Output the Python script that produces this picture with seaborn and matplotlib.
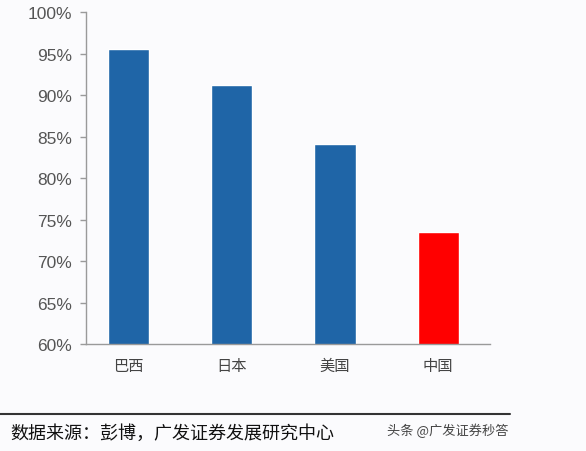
import matplotlib
matplotlib.use("Agg")
import matplotlib.pyplot as plt
import seaborn as sns
import pandas as pd
from matplotlib.ticker import FuncFormatter

countries = ["巴西", "日本", "美国", "中国"]
values = [95.5, 91.2, 84.1, 73.5]
bar_colors = ["#1f65a7", "#1f65a7", "#1f65a7", "#ff0000"]
yticks = [60, 65, 70, 75, 80, 85, 90, 95, 100]
source_text = "数据来源：彭博，广发证券发展研究中心"
watermark = "头条 @广发证券秒答"

sns.set_style("white")
plt.rcParams['font.family'] = ['Noto Sans CJK SC', 'DejaVu Sans']

df = pd.DataFrame({"country": countries, "value": values})

fig = plt.figure(figsize=(5.86, 4.52), dpi=100, facecolor="#fbfbfd")
ax = fig.add_axes([0.1468, 0.2367, 0.836 - 0.1468, 0.971 - 0.2367])
ax.set_facecolor("#fbfbfd")

sns.barplot(data=df, x="country", y="value", hue="country",
            palette=bar_colors, legend=False, width=0.4, ax=ax,
            saturation=1)

ax.set_ylim(60, 100)
ax.set_xlim(-0.41, 3.5)
ax.set_yticks(yticks)
ax.yaxis.set_major_formatter(FuncFormatter(lambda v, p: f"{v:.0f}%"))
ax.set_xlabel("")
ax.set_ylabel("")

for s in ["top", "right"]:
    ax.spines[s].set_visible(False)
for s in ["left", "bottom"]:
    ax.spines[s].set_color("#9a9a9a")
    ax.spines[s].set_linewidth(1.0)

ax.tick_params(axis="y", which="major", left=True, length=4, width=1,
               color="#9a9a9a", labelsize=12.5, labelcolor="#555555", pad=6)
for lbl in ax.get_yticklabels():
    lbl.set_family(["Liberation Sans", "DejaVu Sans"])
ax.tick_params(axis="x", length=0, labelsize=11, labelcolor="#444444", pad=9)

# separator line and footer texts
fig.add_artist(plt.Line2D([0.0, 0.87], [1 - 415 / 452, 1 - 415 / 452],
                          color="#333333", linewidth=1.5))
fig.text(0.018, 1 - 434 / 452, source_text, fontsize=13, color="#111111",
         fontweight="medium", va="center", ha="left")
fig.text(0.868, 1 - 431 / 452, watermark, fontsize=9.5, color="#444444",
         va="center", ha="right")

fig.savefig("out.png", dpi=100, facecolor=fig.get_facecolor())
